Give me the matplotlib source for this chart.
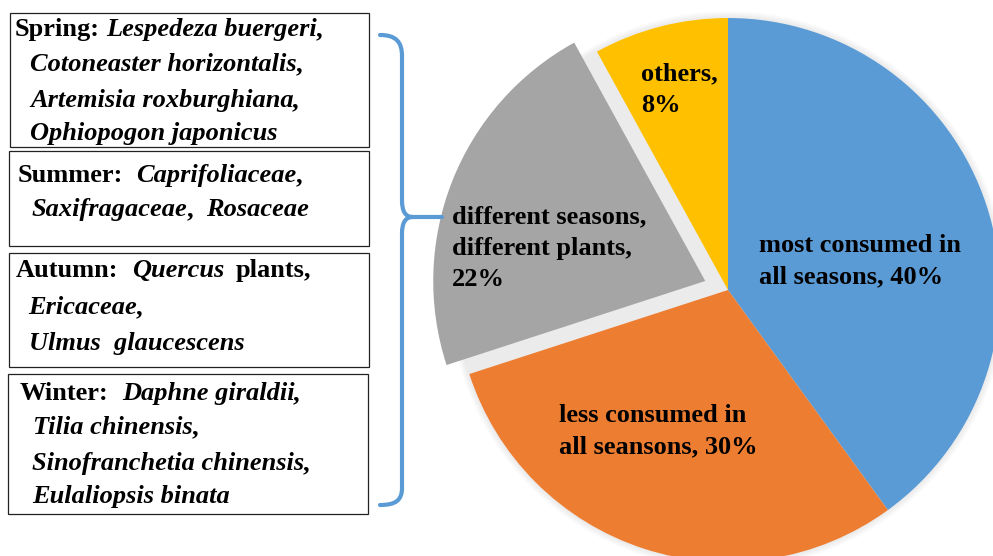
# -*- coding: utf-8 -*-
"""
Pie chart of consumed plants with a seasonal list on the left,
joined to the 'different seasons' slice by a curly brace.
"""

import matplotlib.pyplot as plt
from matplotlib.patches import Rectangle, Circle, PathPatch
from matplotlib.path import Path

#########################
# DATA
shares = [40, 30, 22, 8]   # clockwise from 12 o'clock
slice_labels = [['most consumed in', 'all seasons, 40%'],
                ['less consumed in', 'all seansons, 30%'],
                ['different seasons,', 'different plants,', '22%'],
                ['others,', '8%']]
slice_colors = ['#5B9BD5', '#ED7D31', '#A5A5A5', '#FFC000']
explode = [0, 0, 0.09, 0]   # fraction of the radius

# every line of a box is a list of (text, italic) pieces
spring = [[('Spring:', False), (' Lespedeza buergeri', True), (',', False)],
          [('Cotoneaster horizontalis', True), (',', False)],
          [('Artemisia roxburghiana', True), (',', False)],
          [('Ophiopogon japonicus', True)]]
summer = [[('Summer:', False), ('  Caprifoliaceae', True), (',', False)],
          [('Saxifragaceae', True), (',', False), ('  Rosaceae', True)]]
autumn = [[('Autumn:', False), ('  Quercus', True), ('  plants,', False)],
          [('Ericaceae', True), (',', False)],
          [('Ulmus  glaucescens', True)]]
winter = [[('Winter:', False), ('  Daphne giraldii', True), (',', False)],
          [('Tilia chinensis', True), (',', False)],
          [('Sinofranchetia chinensis', True), (',', False)],
          [('Eulaliopsis binata', True)]]
seasons = [spring, summer, autumn, winter]
###########################

W, H = 993, 556
FS = 19
FONT = 'Liberation Serif'

fig = plt.figure(figsize=(W / 100, H / 100), dpi=100)
ax = fig.add_axes([0, 0, 1, 1])

# pie, in pixel units (y measured from the top of the picture)
cx, cy, R = 728, 290, 272
for k in range(1, 8):  # soft glow round the pie
    ax.add_patch(Circle((cx, H - cy), R + k, color='#888888', alpha=0.02,
                        lw=0, zorder=0))
wedges, _ = ax.pie(shares, colors=slice_colors, explode=[e * R for e in explode],
                   startangle=90, counterclock=False, center=(cx, H - cy), radius=R,
                   wedgeprops=dict(linewidth=0), frame=True)
for w in wedges:
    w.set_zorder(2)

ax.set_xlim(0, W)
ax.set_ylim(0, H)
ax.set_aspect('equal')
ax.axis('off')

label_pos = [(759, 252), (559, 422), (452, 223), (641, 80)]  # left, first baseline
for lines, (lx, ly) in zip(slice_labels, label_pos):
    for i, s in enumerate(lines):
        ax.text(lx, H - (ly + 31.5 * i), s, family=FONT, fontsize=FS,
                fontweight='bold', va='baseline', ha='left', zorder=5)

# boxes on the left
boxes = [(10, 13, 359, 134), (9, 151, 360, 95), (9, 253, 360, 114), (8, 374, 360, 140)]
starts = [[(15, 36), (30, 71), (30, 107), (30, 140)],
          [(18, 182), (32, 216)],
          [(16, 277), (28, 314), (29, 350)],
          [(20, 400), (33, 434), (32, 470), (32, 503)]]
space_w = 0.25 * FS * 100 / 72
renderer = fig.canvas.get_renderer()
for (bx, by, bw, bh), lines, pos in zip(boxes, seasons, starts):
    ax.add_patch(Rectangle((bx, H - by - bh), bw, bh, fill=False,
                           ec='#222222', lw=0.9, zorder=3))
    for pieces, (x, y) in zip(lines, pos):
        for s, italic in pieces:
            n = len(s) - len(s.lstrip(' '))
            x += n * space_w
            t = ax.text(x, H - y, s.strip(' '), family=FONT, fontsize=FS,
                        fontweight='bold', fontstyle='italic' if italic else 'normal',
                        va='baseline', ha='left', zorder=5)
            x = t.get_window_extent(renderer).x1 - (1.5 if italic else 0)

# curly brace
brace = '#5B9BD5'
verts = [(380, 35), (396, 35), (402, 42), (402, 56),
         (402, 200),
         (402, 211), (405, 217), (413, 217),
         (442, 217)]
codes = [Path.MOVETO, Path.CURVE4, Path.CURVE4, Path.CURVE4, Path.LINETO,
         Path.CURVE4, Path.CURVE4, Path.CURVE4, Path.LINETO]
verts += [(413, 217), (405, 217), (402, 223), (402, 234),
          (402, 488),
          (402, 500), (396, 505), (380, 505)]
codes += [Path.MOVETO, Path.CURVE4, Path.CURVE4, Path.CURVE4, Path.LINETO,
          Path.CURVE4, Path.CURVE4, Path.CURVE4]
ax.add_patch(PathPatch(Path([(x, H - y) for x, y in verts], codes), fill=False,
                       ec=brace, lw=3, capstyle='round', zorder=4))

plt.savefig('out.png', dpi=100)
